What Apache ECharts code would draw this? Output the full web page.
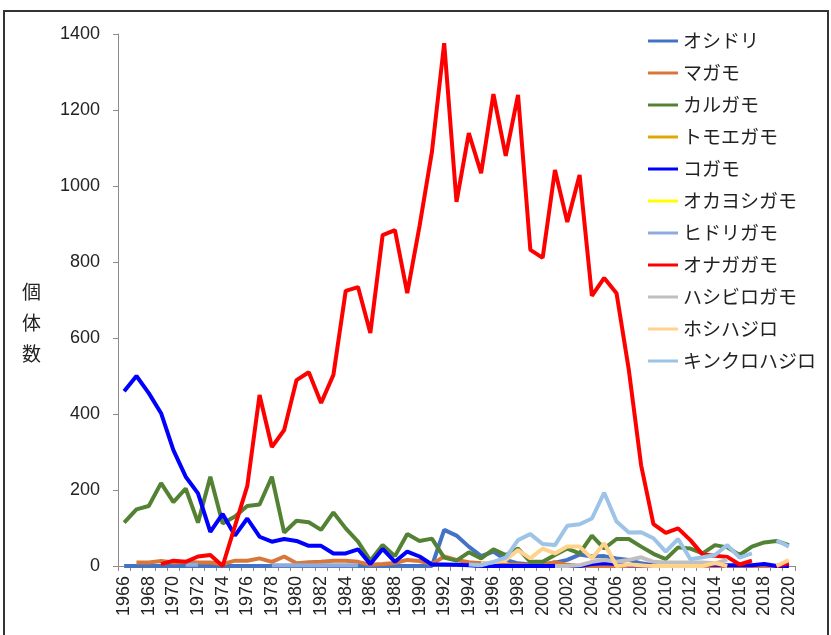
<!DOCTYPE html>
<html>
<head>
<meta charset="utf-8">
<script src="https://cdn.jsdelivr.net/npm/echarts@6/dist/echarts.min.js"></script>
<style>
  html, body { margin: 0; padding: 0; background: #fff; }
  #chart { width: 831px; height: 635px; }
</style>
</head>
<body>
<div id="chart"></div>
<script>
// 年（1966〜2020）
const years = ['1966','1967','1968','1969','1970','1971','1972','1973','1974','1975',
  '1976','1977','1978','1979','1980','1981','1982','1983','1984','1985',
  '1986','1987','1988','1989','1990','1991','1992','1993','1994','1995',
  '1996','1997','1998','1999','2000','2001','2002','2003','2004','2005',
  '2006','2007','2008','2009','2010','2011','2012','2013','2014','2015',
  '2016','2017','2018','2019','2020'];

const yTicks = [0, 200, 400, 600, 800, 1000, 1200, 1400];

// 種ごとの個体数（読み取り値）
const oshidori = [0,0,0,0,0,0,0,0,0,0,
  0,0,0,0,0,0,0,0,0,0,
  0,0,0,0,0,0,95,80,51,26,
  38,16,7,4,4,9,16,30,25,26,
  20,16,7,2,0,0,0,0,0,0,
  0,0,0,0,0];
const magamo = [null,9,9,13,9,11,9,9,5,14,
  14,20,11,25,7,10,11,14,14,11,
  3,5,8,16,13,5,25,16,10,7,
  5,3,3,2,3,10,3,0,0,0,
  0,0,0,0,0,0,0,0,0,0,
  0,0,0,0,0];
const karugamo = [114,149,158,218,168,204,114,235,112,130,
  158,162,235,88,119,115,95,141,99,64,
  14,55,26,84,66,72,22,14,36,20,
  44,29,46,11,11,29,46,33,80,46,
  71,71,51,32,18,49,46,33,55,49,
  29,51,62,66,55];
const tomoegamo = [null,null,null,null,null,null,null,null,null,null,
  null,null,null,null,null,null,null,null,null,null,
  null,null,null,null,null,null,null,null,null,null,
  null,null,null,null,null,null,null,null,null,null,
  null,null,null,null,null,null,null,null,null,null,
  null,null,null,null,null];
const kogamo = [460,500,455,402,305,235,191,90,137,80,
  125,77,64,71,66,53,53,33,33,44,
  5,45,11,38,25,4,4,3,2,0,
  0,0,0,0,0,0,0,0,5,7,
  5,2,2,2,2,2,3,3,3,2,
  2,2,5,0,0];
const okayoshigamo = [null,null,null,null,null,null,null,null,null,null,
  null,null,null,null,null,null,null,null,null,null,
  null,null,null,null,null,null,null,null,null,null,
  null,null,null,null,null,null,null,null,null,null,
  null,null,null,null,null,null,null,null,null,null,
  null,null,null,null,null];
const hidorigamo = [null,null,null,null,null,3,3,null,null,null,
  null,null,2,2,2,2,2,2,2,2,
  null,null,null,null,null,null,null,null,null,null,
  null,null,null,null,null,null,null,null,null,null,
  null,null,null,null,null,null,null,null,null,null,
  null,null,null,null,null];
const onagagamo = [null,null,null,5,14,11,25,29,0,105,
  210,450,313,358,489,510,429,503,724,734,
  613,871,884,718,895,1089,1376,958,1139,1034,
  1242,1079,1240,832,811,1042,905,1029,711,758,
  718,516,265,110,87,99,68,30,27,24,
  4,14,null,0,8];
const hashibirogamo = [null,null,null,null,null,null,null,null,null,null,
  null,null,null,null,null,null,null,null,null,null,
  null,null,null,null,null,null,null,null,null,null,
  null,null,null,null,null,0,0,2,11,16,
  11,16,23,11,9,9,9,9,7,16,
  null,null,null,null,null];
const hoshihajiro = [null,null,null,null,null,null,null,null,null,null,
  null,null,null,null,null,null,null,null,null,null,
  null,null,null,null,null,null,null,null,null,5,
  10,16,42,20,46,33,51,51,20,60,
  0,4,2,0,0,0,0,0,8,0,
  null,null,null,0,16];
const kinkurohajiro = [null,null,null,null,null,null,null,null,null,null,
  null,null,null,null,null,null,null,null,null,null,
  null,null,null,null,null,null,null,null,4,2,
  11,22,68,84,58,55,106,110,125,193,
  117,88,89,73,38,71,18,23,29,55,
  22,33,null,68,51];

const seriesList = [
  { name: 'オシドリ', data: oshidori, color: '#4472C4' },
  { name: 'マガモ', data: magamo, color: '#D9773A' },
  { name: 'カルガモ', data: karugamo, color: '#548235' },
  { name: 'トモエガモ', data: tomoegamo, color: '#E0A800' },
  { name: 'コガモ', data: kogamo, color: '#0000FF' },
  { name: 'オカヨシガモ', data: okayoshigamo, color: '#FFFF00' },
  { name: 'ヒドリガモ', data: hidorigamo, color: '#8FAADC' },
  { name: 'オナガガモ', data: onagagamo, color: '#FF0000' },
  { name: 'ハシビロガモ', data: hashibirogamo, color: '#BFBFBF' },
  { name: 'ホシハジロ', data: hoshihajiro, color: '#FFD38C' },
  { name: 'キンクロハジロ', data: kinkurohajiro, color: '#9DC3E6' }
];

const chart = echarts.init(document.getElementById('chart'));

const option = {
  animation: false,
  backgroundColor: '#fff',
  grid: { left: 118, right: 36, top: 34, bottom: 69, containLabel: false },
  legend: {
    orient: 'vertical',
    left: 643,
    top: 26,
    itemWidth: 30,
    itemHeight: 14,
    itemGap: 12,
    icon: 'path://M0,6 L30,6 L30,9 L0,9 Z',
    textStyle: { fontFamily: 'Noto Sans CJK JP', fontSize: 19, color: '#222', lineHeight: 20 },
    data: seriesList.map(s => s.name)
  },
  xAxis: {
    type: 'category',
    data: years,
    boundaryGap: true,
    axisLine: { lineStyle: { color: '#8c8c8c', width: 1 } },
    axisTick: { show: true, interval: 0, length: 5, lineStyle: { color: '#8c8c8c' } },
    axisLabel: {
      interval: 1,
      rotate: 90,
      margin: 10,
      fontFamily: 'Liberation Sans',
      fontSize: 18,
      color: '#222'
    },
    splitLine: { show: false }
  },
  yAxis: {
    type: 'value',
    min: yTicks[0],
    max: yTicks[yTicks.length - 1],
    interval: 200,
    axisLine: { show: true, lineStyle: { color: '#8c8c8c', width: 1 } },
    axisTick: { show: true, length: 5, lineStyle: { color: '#8c8c8c' } },
    axisLabel: {
      fontFamily: 'Liberation Sans',
      fontSize: 18,
      color: '#222',
      margin: 18,
      formatter: v => String(v)
    },
    splitLine: { show: false }
  },
  series: seriesList.map(s => ({
    name: s.name,
    type: 'line',
    data: s.data,
    symbol: 'none',
    connectNulls: false,
    color: s.color,
    lineStyle: { color: s.color, width: 4 }
  })),
  graphic: [
    {
      type: 'rect',
      shape: { x: 4, y: 11, width: 824, height: 640 },
      style: { fill: 'none', stroke: '#333', lineWidth: 2 },
      silent: true
    },
    {
      type: 'text',
      left: 22,
      top: 276,
      style: {
        text: '個\n体\n数',
        fontFamily: 'Noto Sans CJK JP',
        fontSize: 19,
        lineHeight: 31,
        fill: '#222'
      }
    }
  ]
};

chart.setOption(option);
</script>
</body>
</html>
